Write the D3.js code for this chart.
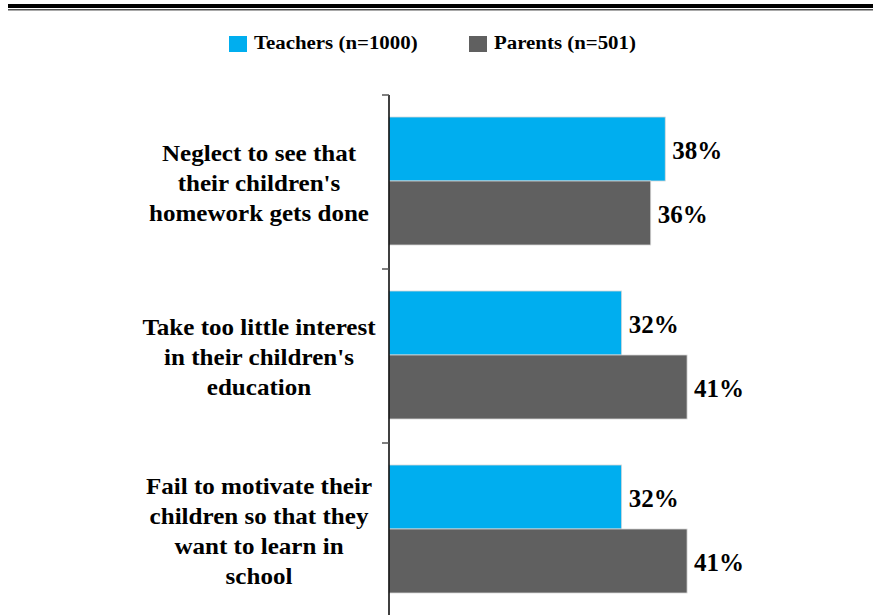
<!DOCTYPE html>
<html lang="en">
<head>
<meta charset="utf-8">
<script src="https://d3js.org/d3.v7.min.js"></script>
<style>
body { margin: 0; background: #fff; }
svg text { font-family: "Liberation Serif", "Times New Roman", Times, serif; font-weight: bold; fill: #000; }
</style>
</head>
<body>
<svg id="chart" width="873" height="615"></svg>
<script>
// chart data
var categories = [
  ["Neglect to see that", "their children's", "homework gets done"],
  ["Take too little interest", "in their children's", "education"],
  ["Fail to motivate their", "children so that they", "want to learn in", "school"]
];
var seriesNames = ["Teachers (n=1000)", "Parents (n=501)"];
var teachers = [38, 32, 32];
var parents = [36, 41, 41];
var colors = ["#00aeef", "#606060"];

var svg = d3.select("#chart");

// double rule at the top
svg.append("rect").attr("x", 8).attr("y", 4).attr("width", 865).attr("height", 4).attr("fill", "#000");
svg.append("rect").attr("x", 8).attr("y", 9).attr("width", 865).attr("height", 1.5).attr("fill", "#555");

// legend (source font is a bit wider than Liberation, so stretch it)
var legendX = [229, 469];
seriesNames.forEach(function(name, i) {
  svg.append("rect")
    .attr("x", legendX[i]).attr("y", 36)
    .attr("width", 18).attr("height", 16)
    .attr("fill", colors[i]);
  svg.append("text")
    .attr("transform", "translate(" + (legendX[i] + 25) + ",49) scale(1.16,1)")
    .style("font-size", "18px")
    .text(name);
});

var axisX = 389;
var x = d3.scaleLinear().domain([0, 100]).range([0, 727]);

var y = d3.scaleBand()
  .domain(d3.range(categories.length))
  .range([95, 617]);

// bar positions inside each band
var inner = d3.scaleBand()
  .domain([0, 1])
  .range([22, 22 + 128]);

var rows = [];
categories.forEach(function(c, i) {
  rows.push({ cat: i, s: 0, v: teachers[i] });
  rows.push({ cat: i, s: 1, v: parents[i] });
});

var g = svg.append("g").attr("transform", "translate(" + axisX + ",0)");

g.selectAll("rect.bar")
  .data(rows)
  .enter()
  .append("rect")
  .attr("class", "bar")
  .attr("x", 0)
  .attr("y", function(d) { return y(d.cat) + inner(d.s); })
  .attr("width", function(d) { return x(d.v); })
  .attr("height", inner.bandwidth())
  .attr("fill", function(d) { return colors[d.s]; })
  .attr("stroke", "#d8d8d8")
  .attr("stroke-width", 0.8);

g.selectAll("text.val")
  .data(rows)
  .enter()
  .append("text")
  .attr("class", "val")
  .attr("x", function(d) { return x(d.v) + 7; })
  .attr("y", function(d) { return y(d.cat) + inner(d.s) + inner.bandwidth() / 2 + 10; })
  .style("font-size", "25px")
  .text(function(d) { return d.v + "%"; });

// axis line with ticks at band edges
svg.append("line")
  .attr("x1", axisX).attr("x2", axisX)
  .attr("y1", 95).attr("y2", 615)
  .attr("stroke", "#000").attr("stroke-width", 1.5);

d3.range(categories.length).forEach(function(i) {
  svg.append("line")
    .attr("x1", axisX - 7).attr("x2", axisX)
    .attr("y1", y(i)).attr("y2", y(i))
    .attr("stroke", "#555").attr("stroke-width", 1.5);
});

// category labels
var lineH = 30;
categories.forEach(function(lines, i) {
  var mid = y(i) + 22 + 64;
  var top = mid - (lines.length - 1) * lineH / 2;
  var t = svg.append("text")
    .attr("text-anchor", "middle")
    .attr("transform", "translate(259,0) scale(1.09,1)")
    .style("font-size", "23px");
  lines.forEach(function(l, j) {
    t.append("tspan")
      .attr("x", 0)
      .attr("y", top + j * lineH + 10)
      .text(l);
  });
});
</script>
</body>
</html>
